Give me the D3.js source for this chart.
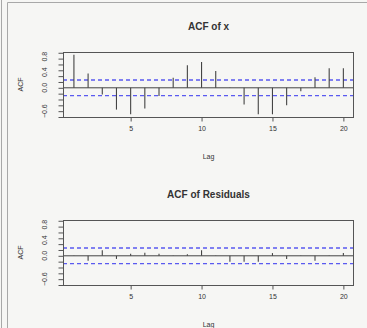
<!DOCTYPE html>
<html>
<head>
<meta charset="utf-8">
<script src="https://cdn.jsdelivr.net/npm/d3@7"></script>
<style>
  html, body { margin: 0; padding: 0; background: #f6f6f4; }
  svg { display: block; }
  text { font-family: "Liberation Sans", Arial, sans-serif; fill: #333; }
</style>
</head>
<body>
<svg width="367" height="328"></svg>
<script>
// lags shown on both panels
const lags = [1, 2, 3, 4, 5, 6, 7, 8, 9, 10, 11, 12, 13, 14, 15, 16, 17, 18, 19, 20];

// ACF of x
const acfX = [0.85, 0.37, -0.17, -0.56, -0.68, -0.53, -0.21, 0.26, 0.58, 0.66,
              0.43, 0.01, -0.43, -0.68, -0.68, -0.45, -0.09, 0.27, 0.50, 0.50];

// ACF of residuals
const acfRes = [0.01, -0.13, 0.14, -0.08, 0.05, 0.08, 0.05, 0.01, 0.04, 0.14,
                0.01, -0.15, -0.15, -0.15, 0.07, -0.08, 0.01, -0.13, 0.01, 0.07];

// confidence bounds
const ciBounds = [0.2, -0.2];

// axis ticks
const xTicks = [5, 10, 15, 20];
const yTickMarks = [-0.75, -0.6, -0.45, -0.3, -0.15, 0, 0.15, 0.3, 0.45, 0.6, 0.75, 0.9];
const yLabels = [0.8, 0.4, 0.0, -0.6];

const svg = d3.select("svg");

// window border lines
svg.append("line").attr("x1", 1.5).attr("x2", 1.5).attr("y1", 0).attr("y2", 328)
    .attr("stroke", "#a8a8a8");
svg.append("line").attr("x1", 7.5).attr("x2", 7.5).attr("y1", 2.5).attr("y2", 328)
    .attr("stroke", "#a8a8a8");
svg.append("line").attr("x1", 7.5).attr("x2", 367).attr("y1", 2.5).attr("y2", 2.5)
    .attr("stroke", "#a8a8a8");

const x = d3.scaleLinear().domain([0.23, 20.75]).range([63, 354]);

function drawPanel(top, title, values) {
    const y = d3.scaleLinear().domain([-0.75, 0.92]).range([top + 65, top]);
    const g = svg.append("g");

    // title
    g.append("text")
        .attr("x", 208.5).attr("y", top - 22)
        .attr("text-anchor", "middle")
        .attr("font-size", 10).attr("font-weight", "bold")
        .attr("fill", "#222")
        .text(title);

    // confidence bands
    g.selectAll(".ci")
        .data(ciBounds)
        .join("line")
        .attr("x1", 63).attr("x2", 354)
        .attr("y1", d => y(d)).attr("y2", d => y(d))
        .attr("stroke", "#5a5af0")
        .attr("stroke-width", 1.3)
        .attr("stroke-dasharray", "4,3");

    // zero line
    g.append("line")
        .attr("x1", 63).attr("x2", 354)
        .attr("y1", y(0)).attr("y2", y(0))
        .attr("stroke", "#444");

    // acf spikes
    g.selectAll(".spike")
        .data(values)
        .join("line")
        .attr("x1", (d, i) => x(lags[i])).attr("x2", (d, i) => x(lags[i]))
        .attr("y1", y(0)).attr("y2", d => y(d))
        .attr("stroke", "#444")
        .attr("stroke-width", 1.1);

    // box
    g.append("rect")
        .attr("x", 63.5).attr("y", top + 0.5)
        .attr("width", 290).attr("height", 65)
        .attr("fill", "none")
        .attr("stroke", "#555");

    // x axis
    const xAxis = d3.axisBottom(x).tickValues(xTicks).tickSize(4).tickPadding(5);
    const gx = g.append("g")
        .attr("transform", `translate(0,${top + 65.5})`)
        .call(xAxis);
    gx.select(".domain").remove();
    gx.selectAll("line").attr("stroke", "#555");
    gx.selectAll("text").attr("font-size", 7).attr("fill", "#444")
        .attr("font-family", "Liberation Sans, Arial, sans-serif");

    // y axis tick marks
    const yAxis = d3.axisLeft(y).tickValues(yTickMarks).tickSize(5).tickFormat("");
    const gy = g.append("g")
        .attr("transform", "translate(63.5,0)")
        .call(yAxis);
    gy.select(".domain").remove();
    gy.selectAll("line").attr("stroke", "#555");

    // y tick labels (rotated)
    g.selectAll(".ylab")
        .data(yLabels)
        .join("text")
        .attr("transform", d => `translate(47,${y(d)}) rotate(-90)`)
        .attr("text-anchor", "middle")
        .attr("font-size", 7)
        .attr("fill", "#444")
        .text(d => d3.format(".1f")(d));

    // axis titles
    g.append("text")
        .attr("transform", `translate(23,${top + 32.5}) rotate(-90)`)
        .attr("text-anchor", "middle")
        .attr("font-size", 7)
        .attr("fill", "#444")
        .text("ACF");
    g.append("text")
        .attr("x", 208.5).attr("y", top + 107)
        .attr("text-anchor", "middle")
        .attr("font-size", 7)
        .attr("fill", "#444")
        .text("Lag");
}

drawPanel(52, "ACF of x", acfX);
drawPanel(220, "ACF of Residuals", acfRes);
</script>
</body>
</html>
